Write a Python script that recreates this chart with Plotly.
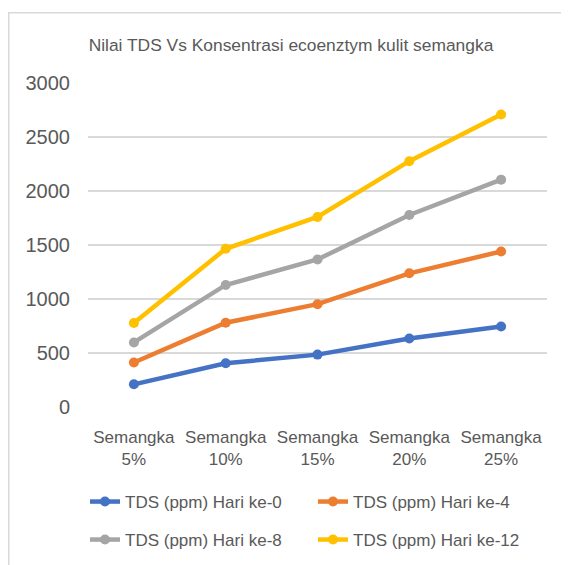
import plotly.graph_objects as go

categories = ["Semangka<br>5%", "Semangka<br>10%", "Semangka<br>15%", "Semangka<br>20%", "Semangka<br>25%"]
series_names = ["TDS (ppm) Hari ke-0", "TDS (ppm) Hari ke-4", "TDS (ppm) Hari ke-8", "TDS (ppm) Hari ke-12"]
hari0 = [210, 405, 485, 635, 745]
hari4 = [412, 780, 952, 1238, 1440]
hari8 = [598, 1130, 1366, 1778, 2105]
hari12 = [778, 1465, 1760, 2276, 2708]
colors = ["#4472C4", "#ED7D31", "#A5A5A5", "#FFC000"]
y_ticks = [0, 500, 1000, 1500, 2000, 2500, 3000]

W, H = 569, 565
OFF = 8  # page body margin
L, R, T, B = 88 - OFF, 547 - OFF, 83 - OFF, 407 - OFF  # plot area in figure px
FONT = "Liberation Sans"
TXT = "#595959"

fig = go.Figure()
for i, (name, vals) in enumerate(zip(series_names, [hari0, hari4, hari8, hari12])):
    fig.add_trace(go.Scatter(
        x=categories, y=vals, name=name, mode="lines+markers",
        line=dict(color=colors[i], width=4.5),
        marker=dict(color=colors[i], size=10),
        legend="legend" if i < 2 else "legend2",
    ))

pw, ph = R - L, B - T
def px(x):
    return (x - OFF - L) / pw
def py(y):
    return (B - (y - OFF)) / ph

fig.update_layout(
    width=W, height=H,
    margin=dict(l=L, r=W - R, t=T, b=H - B, pad=0),
    paper_bgcolor="white", plot_bgcolor="white",
    font=dict(family=FONT, color=TXT, size=17),
    title=dict(text="Nilai TDS Vs Konsentrasi ecoenztym kulit semangka",
               x=(291 - OFF) / W, xanchor="center", y=1 - (45 - OFF) / H, yanchor="middle",
               font=dict(size=17.4, color=TXT)),
    xaxis=dict(type="category", range=[-0.5, 4.5], showgrid=False, showline=False,
               zeroline=False, ticks="", tickfont=dict(size=17, color=TXT),
               ticklabelstandoff=18),
    yaxis=dict(range=[0, 3000], tickvals=y_ticks, showgrid=True, gridcolor="#D9D9D9",
               gridwidth=1.5, zeroline=False, showline=False, ticks="",
               tickfont=dict(size=20, color=TXT), ticklabelstandoff=17),
    legend=dict(orientation="h", x=px(85), xanchor="left", y=py(502), yanchor="middle",
                entrywidth=183, entrywidthmode="pixels", font=dict(size=17, color=TXT),
                bgcolor="rgba(0,0,0,0)"),
    legend2=dict(orientation="h", x=px(85), xanchor="left", y=py(540), yanchor="middle",
                 entrywidth=183, entrywidthmode="pixels", font=dict(size=17, color=TXT),
                 bgcolor="rgba(0,0,0,0)"),
    showlegend=True,
    shapes=[dict(type="rect", xref="paper", yref="paper",
                 x0=px(8.75), x1=px(590), y0=py(12.75), y1=py(590),
                 line=dict(color="#D9D9D9", width=1.5), fillcolor="rgba(0,0,0,0)",
                 layer="below")],
)

fig.write_html("out.html")
